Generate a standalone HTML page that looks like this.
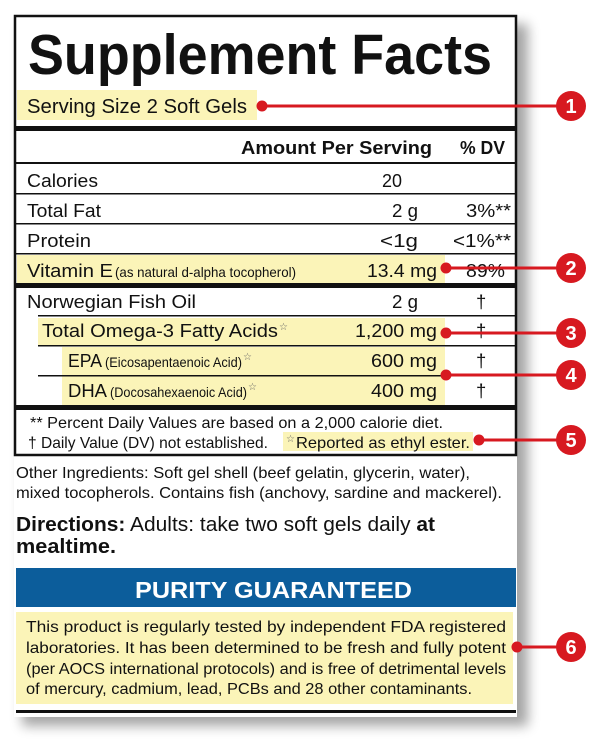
<!DOCTYPE html>
<html><head><meta charset="utf-8"><style>
html,body{margin:0;padding:0;background:#fff;width:608px;height:745px;overflow:hidden}
svg{display:block}
text{font-family:"Liberation Sans",sans-serif;fill:#111}
.n{font-family:"Liberation Sans Narrow","Liberation Sans",sans-serif}
</style></head><body>
<svg width="608" height="745" viewBox="0 0 608 745" xmlns="http://www.w3.org/2000/svg">
<defs><filter id="b" x="-20%" y="-20%" width="140%" height="140%"><feGaussianBlur stdDeviation="6"/></filter></defs>
<rect x="22" y="24" width="506" height="702" fill="#000" opacity="0.35" filter="url(#b)"/>
<rect x="14" y="14" width="503" height="703" fill="#fff"/>
<g fill="#fbf4b8">
<rect x="17" y="90" width="240" height="30"/>
<rect x="17" y="255" width="428" height="28"/>
<rect x="38" y="318" width="407" height="28"/>
<rect x="62" y="347" width="383" height="58"/>
<rect x="283" y="432" width="190" height="19"/>
<rect x="16" y="612" width="497" height="92"/>
</g>
<g fill="none" stroke="#111">
<path d="M15 16 H516 V455 H15 Z" stroke-width="2.5"/>
</g>
<g fill="#111">
<rect x="15" y="126" width="502" height="5"/>
<rect x="15" y="283" width="502" height="5"/>
<rect x="15" y="405" width="502" height="5"/>
<rect x="15" y="162" width="502" height="2"/>
<rect x="15" y="193" width="502" height="1.5"/>
<rect x="15" y="223" width="502" height="1.5"/>
<rect x="15" y="253" width="502" height="1.5"/>
<rect x="38" y="315" width="479" height="1.5"/>
<rect x="38" y="345" width="479" height="1.5"/>
<rect x="38" y="375" width="479" height="1.5"/>
<rect x="16" y="710" width="500" height="3"/>
</g>
<rect x="16" y="568" width="500" height="39" fill="#0c5d9b"/>
<text x="28" y="74" font-size="57" font-weight="bold" textLength="464" lengthAdjust="spacingAndGlyphs">Supplement Facts</text>
<text x="27" y="113" font-size="20" textLength="220" lengthAdjust="spacingAndGlyphs">Serving Size 2 Soft Gels</text>
<text x="241" y="154" font-size="18" font-weight="bold" textLength="191" lengthAdjust="spacingAndGlyphs">Amount Per Serving</text>
<text x="460" y="154" font-size="18" font-weight="bold" textLength="45" lengthAdjust="spacingAndGlyphs">% DV</text>
<g font-size="18.5">
<text x="27" y="187" textLength="71" lengthAdjust="spacingAndGlyphs">Calories</text>
<text x="382" y="187" textLength="20" lengthAdjust="spacingAndGlyphs">20</text>
<text x="27" y="217" textLength="74" lengthAdjust="spacingAndGlyphs">Total Fat</text>
<text x="392" y="217" textLength="26" lengthAdjust="spacingAndGlyphs">2 g</text>
<text x="466" y="217" textLength="45" lengthAdjust="spacingAndGlyphs">3%**</text>
<text x="27" y="247" textLength="64" lengthAdjust="spacingAndGlyphs">Protein</text>
<text x="380" y="247" textLength="38" lengthAdjust="spacingAndGlyphs">&lt;1g</text>
<text x="453" y="247" textLength="58" lengthAdjust="spacingAndGlyphs">&lt;1%**</text>
<text x="27" y="277" textLength="86" lengthAdjust="spacingAndGlyphs">Vitamin E</text>
<text x="367" y="277" textLength="70" lengthAdjust="spacingAndGlyphs">13.4 mg</text>
<text x="466" y="277" textLength="39" lengthAdjust="spacingAndGlyphs">89%</text>
<text x="27" y="308" textLength="169" lengthAdjust="spacingAndGlyphs">Norwegian Fish Oil</text>
<text x="392" y="308" textLength="26" lengthAdjust="spacingAndGlyphs">2 g</text>
<text x="476" y="308">†</text>
<text x="42" y="337" textLength="236" lengthAdjust="spacingAndGlyphs">Total Omega-3 Fatty Acids</text>
<text x="355" y="337" textLength="82" lengthAdjust="spacingAndGlyphs">1,200 mg</text>
<text x="476" y="337">†</text>
<text x="68" y="367" textLength="34" lengthAdjust="spacingAndGlyphs">EPA</text>
<text x="371" y="367" textLength="66" lengthAdjust="spacingAndGlyphs">600 mg</text>
<text x="476" y="367">†</text>
<text x="68" y="397" textLength="39" lengthAdjust="spacingAndGlyphs">DHA</text>
<text x="371" y="397" textLength="66" lengthAdjust="spacingAndGlyphs">400 mg</text>
<text x="476" y="397">†</text>
</g>
<g font-size="14">
<text class="n" x="115" y="277" textLength="181" lengthAdjust="spacingAndGlyphs">(as natural d-alpha tocopherol)</text>
<text class="n" x="105" y="367" textLength="137" lengthAdjust="spacingAndGlyphs">(Eicosapentaenoic Acid)</text>
<text class="n" x="110" y="397" textLength="137" lengthAdjust="spacingAndGlyphs">(Docosahexaenoic Acid)</text>
</g>
<g font-size="10">
<text x="279" y="330" style="fill:#666">☆</text>
<text x="243" y="360" style="fill:#666">☆</text>
<text x="248" y="390" style="fill:#666">☆</text>
<text x="286" y="442" style="fill:#666">☆</text>
</g>
<g font-size="16">
<text x="30" y="428" textLength="413" lengthAdjust="spacingAndGlyphs">** Percent Daily Values are based on a 2,000 calorie diet.</text>
<text x="28" y="448" textLength="240" lengthAdjust="spacingAndGlyphs">† Daily Value (DV) not established.</text>
<text x="296" y="448" textLength="174" lengthAdjust="spacingAndGlyphs">Reported as ethyl ester.</text>
<text x="16" y="478" textLength="454" lengthAdjust="spacingAndGlyphs">Other Ingredients: Soft gel shell (beef gelatin, glycerin, water),</text>
<text x="16" y="498" textLength="486" lengthAdjust="spacingAndGlyphs">mixed tocopherols. Contains fish (anchovy, sardine and mackerel).</text>
</g>
<text x="16" y="531" font-size="20" textLength="419" lengthAdjust="spacingAndGlyphs"><tspan font-weight="bold">Directions:</tspan> Adults: take two soft gels daily <tspan font-weight="bold">at</tspan></text>
<text x="16" y="553" font-size="20" font-weight="bold" textLength="100" lengthAdjust="spacingAndGlyphs">mealtime.</text>
<text x="135" y="598" font-size="23" font-weight="bold" style="fill:#fff" textLength="277" lengthAdjust="spacingAndGlyphs">PURITY GUARANTEED</text>
<g font-size="16">
<text x="26" y="632" textLength="480" lengthAdjust="spacingAndGlyphs">This product is regularly tested by independent FDA registered</text>
<text x="26" y="653" textLength="480" lengthAdjust="spacingAndGlyphs">laboratories. It has been determined to be fresh and fully potent</text>
<text x="26" y="674" textLength="480" lengthAdjust="spacingAndGlyphs">(per AOCS international protocols) and is free of detrimental levels</text>
<text x="26" y="694" textLength="446" lengthAdjust="spacingAndGlyphs">of mercury, cadmium, lead, PCBs and 28 other contaminants.</text>
</g>
<g stroke="#d71920" stroke-width="3">
<line x1="262" y1="106" x2="570" y2="106"/>
<line x1="446" y1="268" x2="570" y2="268"/>
<line x1="446" y1="333" x2="570" y2="333"/>
<line x1="446" y1="375" x2="570" y2="375"/>
<line x1="479" y1="440" x2="570" y2="440"/>
<line x1="517" y1="647" x2="570" y2="647"/>
</g>
<g fill="#d71920">
<circle cx="262" cy="106" r="5.5"/><circle cx="446" cy="268" r="5.5"/><circle cx="446" cy="333" r="5.5"/>
<circle cx="446" cy="375" r="5.5"/><circle cx="479" cy="440" r="5.5"/><circle cx="517" cy="647" r="5.5"/>
<circle cx="571" cy="106" r="15"/><circle cx="571" cy="268" r="15"/><circle cx="571" cy="333" r="15"/>
<circle cx="571" cy="375" r="15"/><circle cx="571" cy="440" r="15"/><circle cx="571" cy="647" r="15"/>
</g>
<g font-size="20" font-weight="bold" text-anchor="middle">
<text x="571" y="113" style="fill:#fff">1</text><text x="571" y="275" style="fill:#fff">2</text>
<text x="571" y="340" style="fill:#fff">3</text><text x="571" y="382" style="fill:#fff">4</text>
<text x="571" y="447" style="fill:#fff">5</text><text x="571" y="654" style="fill:#fff">6</text>
</g>
</svg>
</body></html>
